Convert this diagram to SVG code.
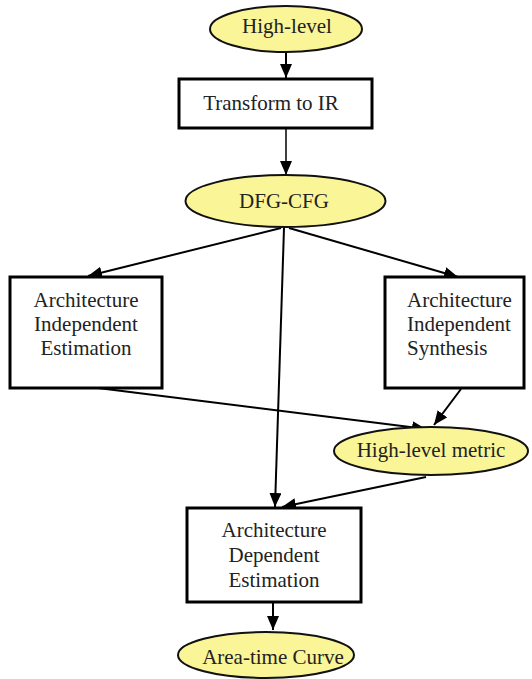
<svg xmlns="http://www.w3.org/2000/svg" width="532" height="679" viewBox="0 0 532 679" font-family="'Liberation Serif', 'DejaVu Serif', serif">
<style>
text{font-family:"Liberation Serif","DejaVu Serif",serif;font-size:21px;fill:#222;}
.c{text-anchor:middle;}
.box{fill:#fff;stroke:#000;stroke-width:3;}
.ell{fill:#faf596;stroke:#111;stroke-width:2;}
.edge{stroke:#000;stroke-width:2;fill:none;marker-end:url(#ah);}
</style>
<defs>
<marker id="ah" markerUnits="userSpaceOnUse" markerWidth="15" markerHeight="12" refX="14" refY="6" orient="auto">
<path d="M0,0 L14,6 L0,12 z" fill="#000"/>
</marker>
</defs>
<rect width="532" height="679" fill="#fff"/>
<g id="connectors">
<line class="edge" x1="286" y1="52" x2="286" y2="78"/>
<line class="edge" x1="286" y1="129" x2="286" y2="175" style="stroke-width:1.5"/>
<line class="edge" x1="281" y1="228" x2="88" y2="276"/>
<line class="edge" x1="289" y1="228" x2="458" y2="277"/>
<line class="edge" x1="284" y1="228" x2="275" y2="507"/>
<line class="edge" x1="98" y1="388" x2="426" y2="429"/>
<line class="edge" x1="461" y1="389" x2="434" y2="425"/>
<line class="edge" x1="426" y1="477" x2="282" y2="507"/>
<line class="edge" x1="273" y1="603" x2="273" y2="630"/>
</g>
<g id="high-level">
<ellipse class="ell" cx="286" cy="29" rx="76" ry="23"/>
<text class="c" x="287" y="33">High-level</text>
</g>
<g id="transform">
<rect class="box" x="179" y="79" width="193" height="49"/>
<text class="c" x="271" y="110">Transform to IR</text>
</g>
<g id="dfg-cfg">
<ellipse class="ell" cx="285.5" cy="201" rx="100" ry="26"/>
<text class="c" x="284" y="208">DFG-CFG</text>
</g>
<g id="arch-indep-est">
<rect class="box" x="10" y="277" width="152" height="111"/>
<text class="c" x="86" y="307">Architecture</text>
<text class="c" x="86" y="331">Independent</text>
<text class="c" x="86" y="355">Estimation</text>
</g>
<g id="arch-indep-syn">
<rect class="box" x="385" y="277" width="139" height="111"/>
<text x="407" y="307">Architecture</text>
<text x="407" y="331">Independent</text>
<text x="407" y="355">Synthesis</text>
</g>
<g id="metric">
<ellipse class="ell" cx="431" cy="451" rx="97" ry="24"/>
<text class="c" x="431" y="457">High-level metric</text>
</g>
<g id="arch-dep-est">
<rect class="box" x="187" y="508" width="174" height="94"/>
<text class="c" x="274" y="537">Architecture</text>
<text class="c" x="274" y="562">Dependent</text>
<text class="c" x="274" y="587">Estimation</text>
</g>
<g id="area-time">
<ellipse class="ell" cx="266" cy="655" rx="88" ry="23"/>
<text class="c" x="273" y="664">Area-time Curve</text>
</g>
</svg>
